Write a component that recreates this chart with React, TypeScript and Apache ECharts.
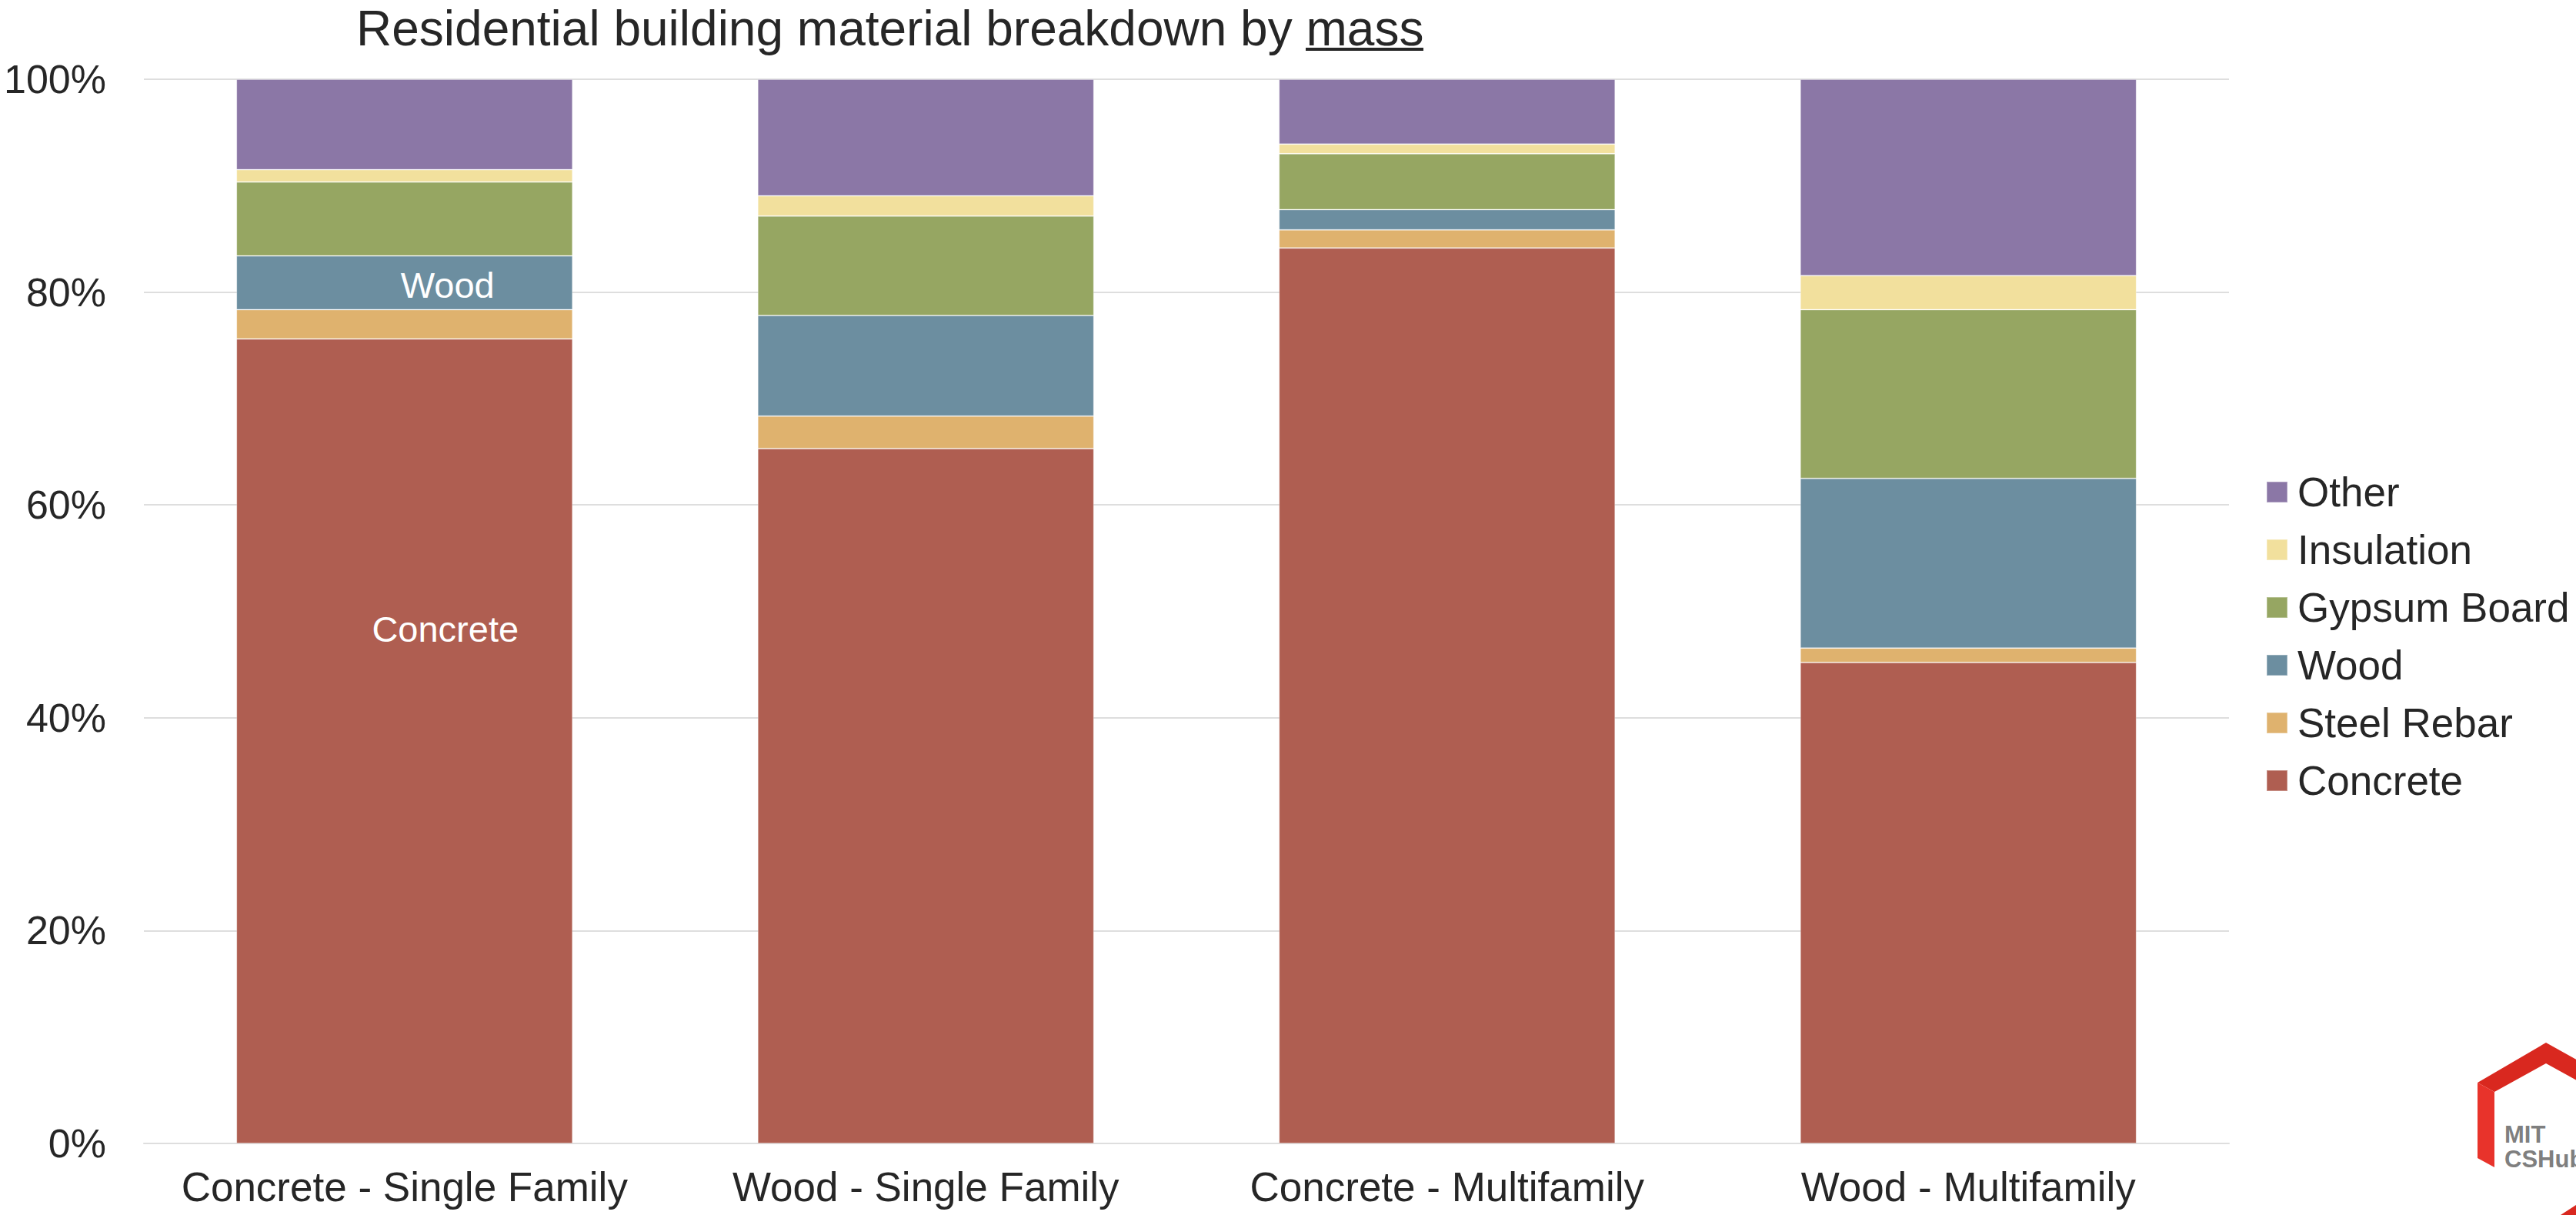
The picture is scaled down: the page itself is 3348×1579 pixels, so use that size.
import React, { useEffect, useRef } from "react";
import * as echarts from "echarts";

const categories = [
  "Concrete - Single Family",
  "Wood - Single Family",
  "Concrete - Multifamily",
  "Wood - Multifamily",
];
const concrete = [75.6, 65.3, 84.15, 45.2];
const steelRebar = [2.75, 3.05, 1.7, 1.35];
const wood = [5.05, 9.45, 1.9, 15.95];
const gypsumBoard = [6.95, 9.35, 5.25, 15.85];
const insulation = [1.15, 1.9, 0.9, 3.2];
const other = [8.5, 10.95, 6.1, 18.45];
const legendOrder = ["Other", "Insulation", "Gypsum Board", "Wood", "Steel Rebar", "Concrete"];
const yTicks = { min: 0, max: 100, interval: 20 };

const FONT = '"Liberation Sans", Arial, sans-serif';
const TEXT = "#262626";

export default function App() {
  const ref = useRef<HTMLDivElement>(null);
  useEffect(() => {
    document.body.style.margin = "0";
    const chart = echarts.init(ref.current!, null, { renderer: "svg" });
    const mk = (name: string, data: any[], color: string) => ({
      name,
      type: "bar",
      stack: "total",
      barWidth: "64.5%",
      data,
      itemStyle: { color, borderColor: "rgba(255,255,255,0.3)", borderWidth: 1 },
      label: { show: false },
    });
    const labelStyle = (text: string, offset: number[]) => ({
      show: true,
      position: "inside",
      formatter: text,
      color: "#ffffff",
      fontSize: 47,
      fontFamily: FONT,
      offset,
    });
    const concreteData = concrete.map((v, i) =>
      i === 0 ? { value: v, label: labelStyle("Concrete", [53, -146]) } : v
    );
    const woodData = wood.map((v, i) =>
      i === 0 ? { value: v, label: labelStyle("Wood", [56, 3]) } : v
    );
    chart.setOption({
      animation: false,
      backgroundColor: "#ffffff",
      textStyle: { fontFamily: FONT },
      grid: { left: 187, right: 451, top: 103, bottom: 93, containLabel: false },
      xAxis: {
        type: "category",
        data: categories,
        axisTick: { show: false },
        axisLine: { lineStyle: { color: "#DEDEDE", width: 2 } },
        axisLabel: { color: TEXT, fontSize: 53, margin: 30, interval: 0, fontFamily: FONT },
      },
      yAxis: {
        type: "value",
        min: yTicks.min,
        max: yTicks.max,
        interval: yTicks.interval,
        axisLine: { show: false },
        axisTick: { show: false },
        axisLabel: { formatter: "{value}%", color: TEXT, fontSize: 52, margin: 49, fontFamily: FONT },
        splitLine: { lineStyle: { color: "#DEDEDE", width: 2 } },
      },
      legend: {
        orient: "vertical",
        left: 2940,
        top: 608,
        itemWidth: 27,
        itemHeight: 27,
        itemGap: 22,
        icon: "rect",
        data: legendOrder,
        textStyle: { fontSize: 53, color: TEXT, fontFamily: FONT, padding: [0, 0, 0, 8] },
      },
      series: [
        mk("Concrete", concreteData, "#AF5E51"),
        mk("Steel Rebar", steelRebar, "#DFB26E"),
        mk("Wood", woodData, "#6C8EA0"),
        mk("Gypsum Board", gypsumBoard, "#96A662"),
        mk("Insulation", insulation, "#F2E09D"),
        mk("Other", other, "#8B77A6"),
      ],
      graphic: [
        {
          type: "text",
          x: 463,
          y: 37,
          style: {
            text: "Residential building material breakdown by mass",
            fontSize: 64,
            fontFamily: FONT,
            fill: TEXT,
            align: "left",
            verticalAlign: "middle",
          },
        },
        { type: "rect", shape: { x: 1697, y: 62, width: 153, height: 4 }, style: { fill: TEXT } },
        {
          type: "polygon",
          shape: {
            points: [
              [3220, 1407],
              [3309, 1355],
              [3400, 1406],
              [3400, 1432],
              [3309, 1382],
              [3242, 1419],
            ],
          },
          style: { fill: "#D9281F" },
        },
        {
          type: "polygon",
          shape: {
            points: [
              [3220, 1407],
              [3242, 1419],
              [3242, 1517],
              [3220, 1505],
            ],
          },
          style: { fill: "#E8332B" },
        },
        {
          type: "polygon",
          shape: { points: [[3328, 1579], [3348, 1566], [3348, 1579]] },
          style: { fill: "#D9281F" },
        },
        {
          type: "text",
          x: 3255,
          y: 1474,
          style: { text: "MIT", fontSize: 31, fontWeight: "bold", fontFamily: FONT, fill: "#7F7F7F", verticalAlign: "middle" },
        },
        {
          type: "text",
          x: 3255,
          y: 1506,
          style: { text: "CSHub", fontSize: 31, fontWeight: "bold", fontFamily: FONT, fill: "#7F7F7F", verticalAlign: "middle" },
        },
      ],
    });
    return () => chart.dispose();
  }, []);
  return (
    <div
      ref={ref}
      style={{ position: "fixed", left: 0, top: 0, width: 3348, height: 1579, background: "#fff" }}
    />
  );
}
